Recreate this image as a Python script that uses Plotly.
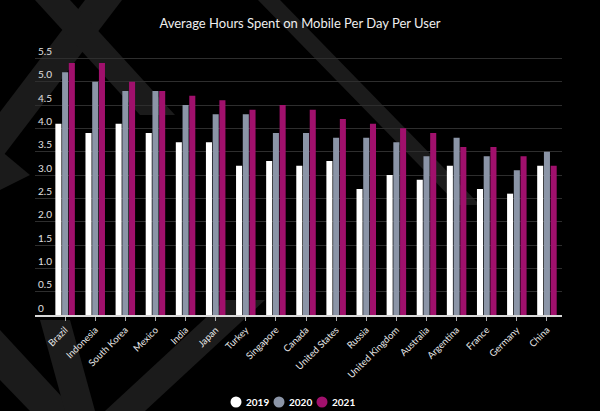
import plotly.graph_objects as go

countries = ["Brazil", "Indonesia", "South Korea", "Mexico", "India", "Japan", "Turkey",
             "Singapore", "Canada", "United States", "Russia", "United Kingdom", "Australia",
             "Argentina", "France", "Germany", "China"]
hours_2019 = [4.1, 3.9, 4.1, 3.9, 3.7, 3.7, 3.2, 3.3, 3.2, 3.3, 2.7, 3.0, 2.9, 3.2, 2.7, 2.6, 3.2]
hours_2020 = [5.2, 5.0, 4.8, 4.8, 4.5, 4.3, 4.3, 3.9, 3.9, 3.8, 3.8, 3.7, 3.4, 3.8, 3.4, 3.1, 3.5]
hours_2021 = [5.4, 5.4, 5.0, 4.8, 4.7, 4.6, 4.4, 4.5, 4.4, 4.2, 4.1, 4.0, 3.9, 3.6, 3.6, 3.4, 3.2]
years = ["2019", "2020", "2021"]
colors = ["#ffffff", "#8b95a7", "#a0106c"]
y_ticks = [0, 0.5, 1.0, 1.5, 2.0, 2.5, 3.0, 3.5, 4.0, 4.5, 5.0, 5.5]
y_tick_text = ["0", "0.5", "1.0", "1.5", "2.0", "2.5", "3.0", "3.5", "4.0", "4.5", "5.0", "5.5"]

W, H = 600, 411
ML, MR, MT, MB = 35, 38, 42, 96
YMAX = 5.85
FONT = "Lato"

fig = go.Figure()
for yr, vals, col in zip(years, [hours_2019, hours_2020, hours_2021], colors):
    fig.add_trace(go.Bar(x=list(range(len(countries))), y=vals, name=yr,
                         marker=dict(color=col, line=dict(width=0)),
                         showlegend=False))

pw, ph = W - ML - MR, H - MT - MB
def P(px, py):
    return (px - ML) / pw, (H - MB - py) / ph
def poly(pts):
    s = ""
    for i, (px, py) in enumerate(pts):
        x, y = P(px, py)
        s += ("M" if i == 0 else "L") + f"{x:.4f},{y:.4f} "
    return s + "Z"

bands = [
    [(85, 0), (122, 0), (0, 160), (0, 112)],
    [(35, 0), (70, 0), (175, 115), (140, 115)],
    [(0, 150), (0, 190), (30, 175)],
    [(258, 0), (280, 0), (480, 205), (458, 205)],
    [(105, 411), (145, 411), (265, 300), (225, 300)],
    [(0, 330), (0, 380), (30, 411), (75, 411)],
    [(40, 320), (70, 320), (95, 411), (65, 411)],
]
shapes = [dict(type="path", path=poly(b), xref="paper", yref="paper",
               fillcolor="#1b1b1b", line=dict(width=0), layer="below") for b in bands]

# custom legend: round swatches + labels (pixel positions)
annotations = []
legend_x = [236, 279, 322]
legend_y = 402
for yr, col, lx in zip(years, colors, legend_x):
    cx, cy = P(lx, legend_y)
    rx, ry = 5.5 / pw, 5.5 / ph
    shapes.append(dict(type="circle", xref="paper", yref="paper",
                       x0=cx - rx, x1=cx + rx, y0=cy - ry, y1=cy + ry,
                       fillcolor=col, line=dict(width=0), layer="above"))
    tx, ty = P(lx + 8, legend_y)
    annotations.append(dict(text="<b>" + yr + "</b>", xref="paper", yref="paper",
                            x=tx, y=ty, xanchor="left", yanchor="middle",
                            showarrow=False, font=dict(size=10, color="#ffffff", family=FONT)))

fig.update_layout(
    width=W, height=H,
    margin=dict(l=ML, r=MR, t=MT, b=MB),
    paper_bgcolor="#000000", plot_bgcolor="rgba(0,0,0,0)",
    font=dict(family=FONT, color="#e8e8e8", size=10),
    title=dict(text="Average Hours Spent on Mobile Per Day Per User",
               x=0.5, xanchor="center", y=1 - 23 / H, yanchor="middle",
               font=dict(size=13, color="#eeeeee", family=FONT)),
    barmode="group", bargap=0.33, bargroupgap=0.1,
    shapes=shapes, annotations=annotations,
    showlegend=False,
    xaxis=dict(range=[-1, len(countries) - 0.5],
               tickmode="array", tickvals=list(range(len(countries))), ticktext=countries,
               tickangle=-45, tickfont=dict(size=9.5, color="#e8e8e8"),
               showgrid=False, zeroline=False,
               showline=True, linecolor="#d8d8d8", linewidth=1.5,
               ticks="outside", ticklen=4, tickcolor="#aaaaaa", tickson="boundaries"),
    yaxis=dict(range=[0, YMAX], tickmode="array", tickvals=y_ticks, ticktext=y_tick_text,
               ticklabelposition="inside top", tickfont=dict(size=10, color="#e0e0e0"),
               showgrid=True, gridcolor="#2e2e2e", gridwidth=1,
               zeroline=False, showline=False, ticks=""),
)

fig.write_html("out.html", config={"displayModeBar": False},
               post_script="document.body.style.margin='0';document.body.style.background='#000';")
